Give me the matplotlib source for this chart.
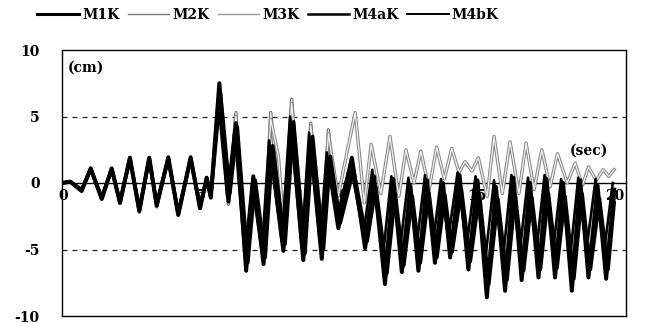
import matplotlib.pyplot as plt
import matplotlib.patheffects as pe
from matplotlib.lines import Line2D

# extreme points (time in sec, displacement in cm)
t_main = [0.0, 0.3, 0.71, 1.04, 1.44, 1.80, 2.10, 2.46, 2.80, 3.16, 3.43, 3.85, 4.21, 4.66, 5.00,
          5.24, 5.39, 5.70, 6.03, 6.30, 6.67, 6.93, 7.30, 7.56, 8.02, 8.32, 8.74, 9.01, 9.41, 9.65,
          10.01, 10.50, 10.98, 11.30, 11.70, 12.00, 12.31, 12.62, 12.91, 13.22, 13.51, 13.80,
          14.06, 14.40, 14.72, 15.05, 15.39, 15.72, 16.05, 16.35, 16.65, 16.95, 17.26, 17.55,
          17.86, 18.15, 18.47, 18.77, 19.07, 19.40, 19.71, 20.00]

t_4a = [0.0, 0.3, 0.71, 1.04, 1.44, 1.80, 2.10, 2.46, 2.80, 3.16, 3.43, 3.85, 4.21, 4.66, 5.00,
        5.24, 5.39, 5.74, 6.08, 6.35, 6.73, 7.00, 7.36, 7.63, 8.08, 8.39, 8.80, 9.08, 9.47, 9.72,
        10.08, 10.56, 11.05, 11.37, 11.77, 12.07, 12.38, 12.69, 12.98, 13.29, 13.58, 13.87,
        14.13, 14.47, 14.79, 15.12, 15.46, 15.79, 16.12, 16.42, 16.72, 17.02, 17.33, 17.62,
        17.93, 18.22, 18.54, 18.84, 19.14, 19.47, 19.78, 20.00]

t_4b = [0.0, 0.3, 0.71, 1.04, 1.44, 1.80, 2.10, 2.46, 2.80, 3.16, 3.43, 3.85, 4.21, 4.66, 5.00,
        5.24, 5.39, 5.67, 5.98, 6.25, 6.62, 6.88, 7.24, 7.50, 7.96, 8.26, 8.68, 8.95, 9.35, 9.59,
        9.95, 10.44, 10.92, 11.24, 11.63, 11.93, 12.24, 12.55, 12.84, 13.15, 13.44, 13.73,
        13.99, 14.33, 14.65, 14.98, 15.32, 15.65, 15.98, 16.28, 16.58, 16.88, 17.19, 17.48,
        17.79, 18.08, 18.40, 18.70, 19.00, 19.33, 19.64, 19.95]

m1k = [0.0, 0.1, -0.6, 1.1, -1.2, 1.1, -1.5, 1.9, -2.1, 1.9, -1.7, 1.9, -2.4, 1.9, -1.9,
       0.4, -1.1, 7.5, -1.4, 4.5, -6.6, 0.5, -6.1, 2.4, -5.1, 4.0, -5.8, 3.0, -5.7, 1.5,
       -3.4, 1.9, -4.9, 0.5, -7.6, 0.3, -6.7, -0.2, -6.6, 0.2, -6.0, 0.0,
       -5.6, 0.6, -6.5, 0.2, -8.6, -0.3, -8.1, 0.4, -7.3, 0.0, -7.1, 0.3,
       -7.1, 0.0, -8.1, 0.2, -7.1, -0.2, -7.2, -0.5]

m4ak = [0.0, 0.1, -0.5, 1.0, -1.1, 1.0, -1.4, 1.8, -2.0, 1.8, -1.6, 1.8, -2.3, 1.8, -1.8,
        0.3, -1.0, 6.8, -0.8, 4.2, -6.0, 0.2, -5.6, 2.8, -4.6, 4.6, -5.3, 3.5, -5.0, 2.0,
        -3.0, 1.0, -4.4, -0.3, -6.8, -0.8, -6.2, -1.0, -6.0, -0.7, -5.6, -0.9,
        -5.2, -0.5, -5.9, -0.8, -7.6, -1.2, -7.3, -0.9, -6.6, -1.1, -6.5, -0.8,
        -6.4, -1.0, -7.2, -0.8, -6.5, -1.2, -6.5, -1.5]

m4bk = [0.0, 0.1, -0.5, 1.0, -1.0, 1.0, -1.3, 1.7, -1.9, 1.7, -1.5, 1.7, -2.1, 1.7, -1.6,
        0.3, -0.9, 6.0, -1.0, 4.0, -5.5, 0.0, -5.2, 3.2, -4.4, 5.0, -4.9, 3.8, -4.6, 2.3,
        -2.6, 1.5, -3.8, 1.0, -5.4, 0.5, -5.0, 0.4, -4.8, 0.6, -4.5, 0.3,
        -4.2, 0.8, -4.9, 0.5, -6.0, 0.2, -5.6, 0.6, -5.2, 0.4, -5.0, 0.6,
        -5.1, 0.3, -5.7, 0.4, -5.0, 0.3, -5.1, 0.0]

m2k = [0.0, 0.1, -0.6, 1.1, -1.2, 1.1, -1.5, 1.9, -2.2, 1.9, -1.8, 2.0, -2.4, 2.0, -1.9,
       0.4, -1.1, 7.2, -1.6, 5.3, -6.3, 0.4, -5.8, 5.3, -4.8, 6.3, -5.4, 4.5, -5.3, 4.0,
       -3.1, 1.2, -4.6, 0.0, -6.4, -0.5, -5.9, -0.8, -5.8, -0.6, -5.3, -0.9,
       -4.9, -0.4, -5.6, -0.9, -7.2, -1.4, -6.8, -1.0, -6.2, -1.2, -6.0, -0.9,
       -6.1, -1.1, -6.8, -1.0, -6.0, -1.3, -6.1, -1.2]

t_m3k = [0.0, 0.3, 0.71, 1.04, 1.44, 1.80, 2.10, 2.46, 2.80, 3.16, 3.43, 3.85, 4.21, 4.66, 5.00,
         5.24, 5.39, 5.70, 6.03, 6.30, 6.67, 6.93, 7.30, 7.56, 7.84, 8.02, 8.32, 8.74, 9.01,
         9.41, 9.65, 10.00, 10.62, 10.95, 11.20, 11.55, 11.88, 12.20, 12.46, 12.75, 13.00,
         13.30, 13.57, 13.85, 14.12, 14.38, 14.60, 14.85, 15.08, 15.40, 15.65, 15.95, 16.23,
         16.55, 16.81, 17.10, 17.38, 17.68, 17.95, 18.30, 18.59, 18.85, 19.07, 19.35, 19.60,
         19.80, 20.00]

m3k = [0.0, 0.1, -0.5, 1.1, -1.1, 1.1, -1.4, 1.9, -2.0, 1.9, -1.6, 1.9, -2.2, 1.9, -1.7,
       0.4, -1.0, 7.4, -1.2, 5.0, -5.0, 0.3, -4.6, 4.8, 2.0, -3.0, 6.0, -3.5, 4.3,
       -3.0, 3.7, -1.0, 5.3, -1.5, 2.9, -0.8, 3.5, -1.0, 2.5, 0.0, 2.4,
       -0.5, 2.7, 0.3, 2.6, 0.8, 1.6, 0.9, 1.9, -1.0, 3.5, -0.8, 3.1,
       -0.8, 3.0, -0.5, 2.5, -0.3, 2.2, 0.0, 1.5, -0.2, 1.2, 0.2, 1.0,
       0.5, 1.0]

y_ticks = [10, 5, 0, -5, -10]
x_ticks = [0, 5, 10, 15, 20]

plt.rcParams['font.family'] = ['DejaVu Serif']
plt.rcParams['font.weight'] = 'bold'

fig = plt.figure(figsize=(6.54, 3.23), dpi=100)
ax = fig.add_axes([62 / 654, 1 - 316 / 323, 564 / 654, 266 / 323])

ax.axhline(0, color='black', lw=1.0, zorder=1)
for yy in [5, -5]:
    ax.axhline(yy, color='#222222', lw=0.9, ls=(0, (4, 4)), zorder=1)

hollow2 = [pe.Stroke(linewidth=2.4, foreground='#6a6a6a'), pe.Normal()]
hollow3 = [pe.Stroke(linewidth=2.4, foreground='#858585'), pe.Normal()]

ax.plot(t_main, m2k, color='#f2f2f2', lw=0.9, zorder=2, path_effects=hollow2)
ax.plot(t_m3k, m3k, color='#f6f6f6', lw=0.9, zorder=2, path_effects=hollow3)
ax.plot(t_main, m1k, color='black', lw=2.9, zorder=3, solid_joinstyle='round')
ax.plot(t_4a, m4ak, color='black', lw=2.6, zorder=3, solid_joinstyle='round')
ax.plot(t_4b, m4bk, color='black', lw=1.9, zorder=3, solid_joinstyle='round')

ax.set_xlim(0, 20.43)
ax.set_ylim(-10, 10)
ax.set_xticks([])
ax.set_yticks(y_ticks)
ax.set_yticklabels([str(v) for v in y_ticks], fontsize=10, fontweight='bold')
ax.tick_params(axis='y', length=0, pad=16)
for s in ax.spines.values():
    s.set_linewidth(1.0)

for xt in x_ticks:
    ax.text(xt + 0.03, -0.45, str(xt), ha='center', va='top', fontsize=10,
            fontweight='bold', zorder=1.5)

ax.text(0.85, 8.7, '(cm)', ha='center', va='center', fontsize=10, fontweight='bold')
ax.text(19.1, 2.4, '(sec)', ha='center', va='center', fontsize=10, fontweight='bold')

handles = [Line2D([], [], color='black', lw=2.2),
           Line2D([], [], color='#777777', lw=1.0),
           Line2D([], [], color='#999999', lw=1.0),
           Line2D([], [], color='black', lw=1.8),
           Line2D([], [], color='black', lw=1.4)]
fig.legend(handles, ['M1K', 'M2K', 'M3K', 'M4aK', 'M4bK'], loc='center',
           bbox_to_anchor=(268 / 654, 1 - 15 / 323), ncol=5, frameon=False,
           handlelength=3.0, handletextpad=0.2, columnspacing=0.6,
           prop={'size': 10, 'weight': 'bold'})

fig.savefig('out.png', dpi=100)
